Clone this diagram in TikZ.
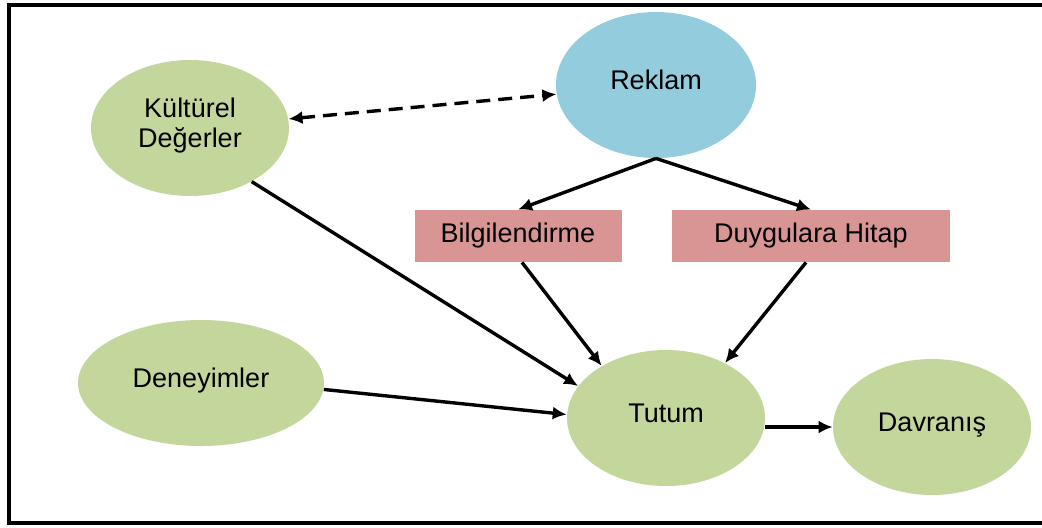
\documentclass[tikz,border=0pt]{standalone}
\usepackage{fontspec}
\setmainfont{Liberation Sans}
\usetikzlibrary{shapes.geometric,arrows.meta}
\definecolor{olive}{HTML}{C3D69B}
\definecolor{sky}{HTML}{93CDDD}
\definecolor{rose}{HTML}{D99594}
\begin{document}
\begin{tikzpicture}[x=0.5pt, y=-0.5pt,
  every node/.style={font=\fontsize{13.5}{15}\selectfont, align=center, inner sep=0pt},
  oval/.style={ellipse, fill=olive, minimum width=99pt, minimum height=68pt, text depth=5pt},
  ad/.style={ellipse, fill=sky, minimum width=100pt, minimum height=73pt, text depth=5pt},
  box/.style={rectangle, fill=rose, minimum height=26pt},
  link/.style={line width=1.7pt, -{Latex[length=7pt,width=6.5pt]}}]
\useasboundingbox (0,0) rectangle (1042,527);
\draw[line width=2pt] (1060,5) -- (9,5) -- (9,523) -- (1060,523);

\node (kultur) at (190,128) [oval] {Kültürel\\Değerler};
\node (reklam) at (656,85) [ad] {Reklam};
\node (bilgi) at (518,236) [box, minimum width=103.5pt] {Bilgilendirme};
\node (duygu) at (811,236) [box, minimum width=139pt] {Duygulara Hitap};
\node (deney) at (201,383) [oval, minimum width=123pt, minimum height=63pt] {Deneyimler};
\node (tutum) at (666,418) [oval] {Tutum};
\node (davr) at (932,427) [oval] {Davranış};

\draw[link, {Latex[length=7pt,width=6.5pt]}-{Latex[length=7pt,width=6.5pt]}, dash pattern=on 7pt off 4pt] (kultur) to (reklam);
\draw[link] (reklam.south) to (bilgi.north);
\draw[link] (reklam.south) to (duygu.north);
\draw[link] (kultur.-41) to (tutum.160);
\draw[link] ([xshift=2pt]bilgi.south) to (tutum.141);
\draw[link] ([xshift=-2.5pt]duygu.south) to (tutum.43);
\draw[link] (deney.-3) to (tutum.178);
\draw[link] (tutum.east |- davr.west) to (davr.west);
\end{tikzpicture}
\end{document}
